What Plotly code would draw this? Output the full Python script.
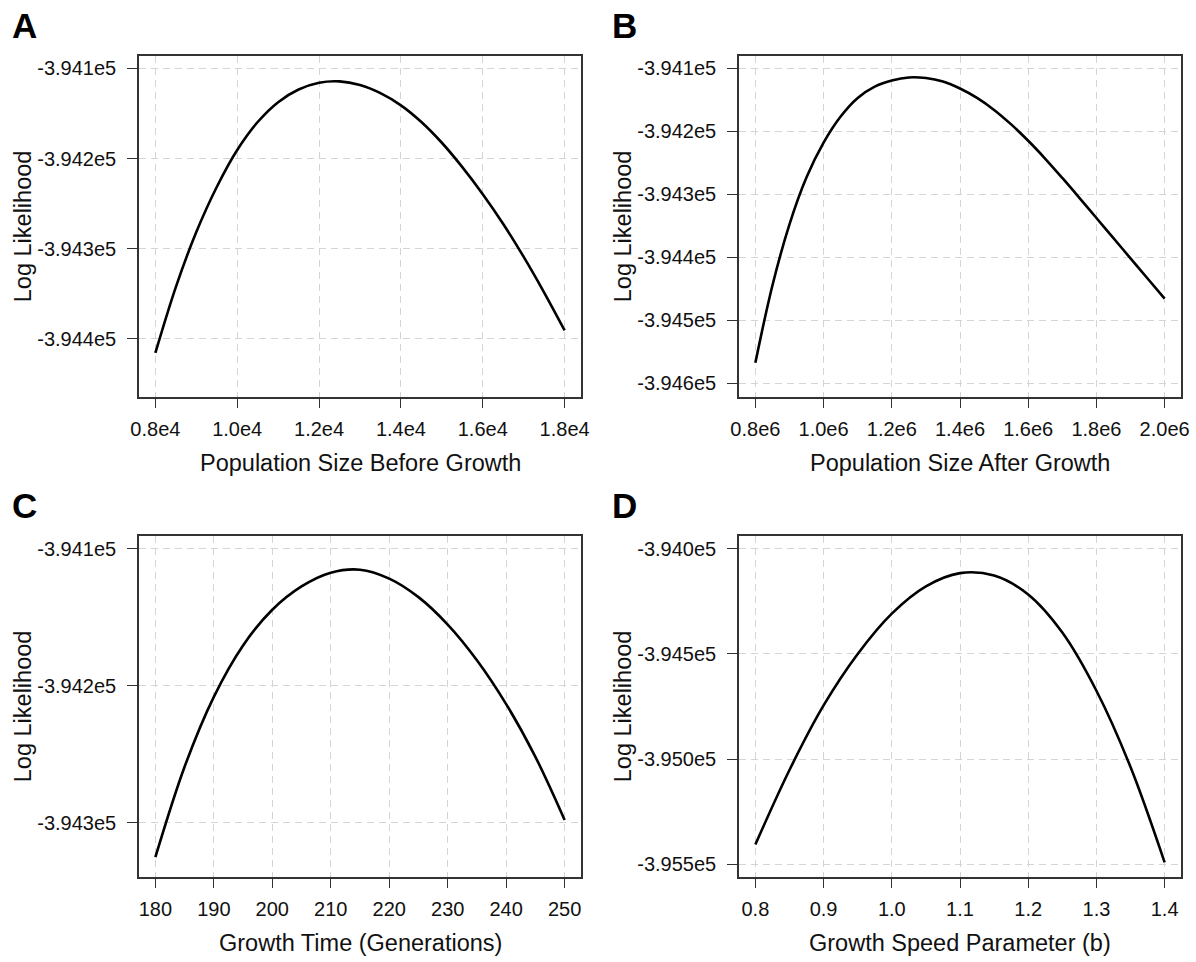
import plotly.graph_objects as go

# ---- data: log-likelihood profiles for each demographic parameter ----
pop_before = [8000, 8500, 9000, 9500, 10000, 10500, 11000, 11500, 12000, 12500,
              13000, 13500, 14000, 14500, 15000, 15500, 16000, 16500, 17000, 17500, 18000]
ll_pop_before = [-394415.5, -394342.5, -394281.5, -394231.5, -394190.5, -394159.5, -394137.5,
                 -394123.5, -394116, -394114.5, -394118.5, -394127.5, -394141, -394159.5,
                 -394182.5, -394209.5, -394239.5, -394272.5, -394309, -394348.5, -394390.5]

pop_after = [0.80e6, 0.85e6, 0.90e6, 0.95e6, 1.00e6, 1.05e6, 1.10e6, 1.15e6, 1.20e6, 1.25e6,
             1.30e6, 1.35e6, 1.40e6, 1.45e6, 1.50e6, 1.55e6, 1.60e6, 1.65e6, 1.70e6, 1.75e6,
             1.80e6, 1.85e6, 1.90e6, 1.95e6, 2.00e6]
ll_pop_after = [-394567, -394444.5, -394347.5, -394273, -394218, -394176.5, -394147, -394129,
                -394119.5, -394114.5, -394115.5, -394121, -394132, -394147, -394166, -394189,
                -394215, -394243.5, -394274, -394305.5, -394337.5, -394369.5, -394401.5,
                -394433.5, -394465.5]

growth_time = [180, 185, 190, 195, 200, 205, 210, 215, 220, 225, 230, 235, 240, 245, 250]
ll_growth_time = [-394325, -394259, -394208, -394170.5, -394144.5, -394127.5, -394117.5,
                  -394115.3, -394121.8, -394135.3, -394155.3, -394181.3, -394213.3,
                  -394251.8, -394297.8]

speed_b = [0.80, 0.85, 0.90, 0.95, 1.00, 1.05, 1.10, 1.15, 1.20, 1.25, 1.30, 1.35, 1.40]
ll_speed_b = [-395407, -395052, -394745, -394500, -394308, -394178, -394115, -394127,
              -394217, -394398, -394675, -395038, -395492]

# ---- axis ticks ----
xt_a = [8000, 10000, 12000, 14000, 16000, 18000]
xl_a = ["0.8e4", "1.0e4", "1.2e4", "1.4e4", "1.6e4", "1.8e4"]
yt_a = [-394100, -394200, -394300, -394400]
yl_a = ["-3.941e5", "-3.942e5", "-3.943e5", "-3.944e5"]

xt_b = [0.8e6, 1.0e6, 1.2e6, 1.4e6, 1.6e6, 1.8e6, 2.0e6]
xl_b = ["0.8e6", "1.0e6", "1.2e6", "1.4e6", "1.6e6", "1.8e6", "2.0e6"]
yt_b = [-394100, -394200, -394300, -394400, -394500, -394600]
yl_b = ["-3.941e5", "-3.942e5", "-3.943e5", "-3.944e5", "-3.945e5", "-3.946e5"]

xt_c = [180, 190, 200, 210, 220, 230, 240, 250]
xl_c = [str(v) for v in xt_c]
yt_c = [-394100, -394200, -394300]
yl_c = ["-3.941e5", "-3.942e5", "-3.943e5"]

xt_d = [0.8, 0.9, 1.0, 1.1, 1.2, 1.3, 1.4]
xl_d = ["0.8", "0.9", "1.0", "1.1", "1.2", "1.3", "1.4"]
yt_d = [-394000, -394500, -395000, -395500]
yl_d = ["-3.940e5", "-3.945e5", "-3.950e5", "-3.955e5"]

x_titles = ["Population Size Before Growth", "Population Size After Growth",
            "Growth Time (Generations)", "Growth Speed Parameter (b)"]
panel_letters = ["A", "B", "C", "D"]

# ---- page geometry (pixels) ----
W, H = 1196, 962
FONT = "Liberation Sans, Arial, Helvetica, sans-serif"
col_px = [(139, 581), (739, 1181)]
row_px = [(55.7, 396.7), (535.7, 876.7)]


def px_x(p):
    return p / W


def px_y(p):
    return 1 - p / H


panels = [
    dict(x=pop_before, y=ll_pop_before, xt=xt_a, xl=xl_a, yt=yt_a, yl=yl_a,
         xr=[7600, 18400], yr=[-394464, -394086], col=0, row=0),
    dict(x=pop_after, y=ll_pop_after, xt=xt_b, xl=xl_b, yt=yt_b, yl=yl_b,
         xr=[0.752e6, 2.048e6], yr=[-394621, -394080], col=1, row=0),
    dict(x=growth_time, y=ll_growth_time, xt=xt_c, xl=xl_c, yt=yt_c, yl=yl_c,
         xr=[177.2, 252.8], yr=[-394339.2, -394090.5], col=0, row=1),
    dict(x=speed_b, y=ll_speed_b, xt=xt_d, xl=xl_d, yt=yt_d, yl=yl_d,
         xr=[0.776, 1.424], yr=[-395560, -393937], col=1, row=1),
]

fig = go.Figure()
annotations = []
BOX = "#333333"
GRID = "#d4d4d4"

for i, p in enumerate(panels):
    n = "" if i == 0 else str(i + 1)
    x0, x1 = col_px[p["col"]]
    y0, y1 = row_px[p["row"]]
    fig.add_trace(go.Scatter(
        x=p["x"], y=p["y"], mode="lines",
        line=dict(color="black", width=2.6, shape="spline", smoothing=1.0),
        xaxis="x" + n, yaxis="y" + n, showlegend=False, hoverinfo="x+y",
    ))
    common = dict(showline=True, linecolor=BOX, linewidth=1.6, mirror=True,
                  ticks="outside", tickcolor=BOX, tickwidth=1.4,
                  showgrid=True, gridcolor=GRID, gridwidth=1, griddash="7px,5px",
                  zeroline=False, tickfont=dict(family=FONT, size=20, color="#111"),
                  automargin=False, fixedrange=True)
    fig.update_layout(**{
        "xaxis" + n: dict(domain=[px_x(x0), px_x(x1)], range=p["xr"],
                          tickvals=p["xt"], ticktext=p["xl"], ticklen=9,
                          ticklabelstandoff=4, anchor="y" + n, **common),
        "yaxis" + n: dict(domain=[px_y(y1), px_y(y0)], range=p["yr"],
                          tickvals=p["yt"], ticktext=p["yl"], ticklen=10,
                          ticklabelstandoff=7, anchor="x" + n, **common),
    })
    # x-axis title
    annotations.append(dict(text=x_titles[i], x=px_x((x0 + x1) / 2), y=px_y(y1 + 66.5),
                            xref="paper", yref="paper", showarrow=False,
                            xanchor="center", yanchor="middle",
                            font=dict(family=FONT, size=23.5, color="#111")))
    # y-axis title
    annotations.append(dict(text="Log Likelihood", x=px_x(x0 - 116), y=px_y((y0 + y1) / 2),
                            xref="paper", yref="paper", showarrow=False, textangle=-90,
                            xanchor="center", yanchor="middle",
                            font=dict(family=FONT, size=23.5, color="#111")))
    # panel letter
    annotations.append(dict(text="<b>" + panel_letters[i] + "</b>",
                            x=px_x(x0 - 115), y=px_y(y0 - 30.5),
                            xref="paper", yref="paper", showarrow=False,
                            xanchor="center", yanchor="middle",
                            font=dict(family=FONT, size=35, color="black")))

fig.update_layout(
    width=W, height=H,
    margin=dict(l=0, r=0, t=0, b=0),
    paper_bgcolor="white", plot_bgcolor="white",
    annotations=annotations,
    showlegend=False,
)

fig.write_html("out.html", config={"displayModeBar": False})
